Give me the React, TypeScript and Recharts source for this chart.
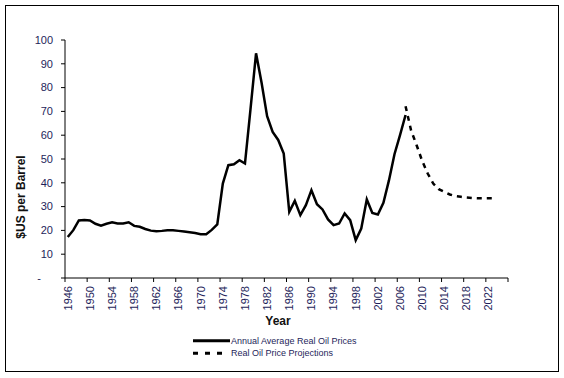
import React from "react";
import { LineChart, Line, XAxis, YAxis } from "recharts";

// years on the category axis (1946 - 2025)
const years: number[] = [];
for (let y = 1946; y <= 2025; y++) years.push(y);

// annual average real oil prices, 1946 - 2007
const actualYears = years.filter((y) => y <= 2007);
const actualPrices = [
  17.2, 20.1, 24.2, 24.4, 24.2, 22.8, 22.0, 22.8, 23.4, 22.9,
  22.9, 23.4, 21.9, 21.5, 20.6, 19.9, 19.6, 19.8, 20.1, 20.1,
  19.8, 19.5, 19.2, 18.9, 18.4, 18.4, 20.2, 22.5, 39.7, 47.4,
  47.8, 49.5, 48.1, 71.0, 94.4, 82.0, 68.0, 61.4, 58.0, 52.3,
  27.8, 32.4, 26.4, 30.6, 36.9, 31.0, 28.8, 24.6, 22.2, 22.9,
  27.1, 24.3, 15.9, 20.8, 33.0, 27.3, 26.7, 31.6, 41.0, 52.0,
  60.0, 68.5,
];

// real oil price projections, 2007 - 2023
const projectionYears = years.filter((y) => y >= 2007 && y <= 2023);
const projectionPrices = [
  72.2, 62.0, 55.8, 49.2, 43.9, 39.7, 37.3, 36.2, 35.1, 34.4,
  34.1, 33.8, 33.6, 33.5, 33.5, 33.5, 33.5,
];

const xTickLabels = [
  "1946", "1950", "1954", "1958", "1962", "1966", "1970", "1974", "1978",
  "1982", "1986", "1990", "1994", "1998", "2002", "2006", "2010", "2014",
  "2018", "2022",
];
const yTicks = [0, 10, 20, 30, 40, 50, 60, 70, 80, 90, 100];

const data = years.map((year) => {
  const ai = actualYears.indexOf(year);
  const pi = projectionYears.indexOf(year);
  return {
    year,
    actual: ai >= 0 ? actualPrices[ai] : null,
    projection: pi >= 0 ? projectionPrices[pi] : null,
  };
});

// tick marks sit on category boundaries, labels in the middle of the category
const xTicks = [...xTickLabels.map((l) => Number(l) - 0.5), 2025.5];
const BAND_HALF = 2.77;

const FONT = '"Liberation Sans", Arial, sans-serif';
const LABEL_COLOR = "#1e1e5a";

const XTick = (props: any) => {
  const { x, y, payload } = props;
  const label = payload.value + 0.5;
  if (!xTickLabels.includes(String(label))) return null;
  const lx = x + BAND_HALF;
  return (
    <text
      x={lx}
      y={y}
      transform={`rotate(-90 ${lx} ${y})`}
      textAnchor="end"
      dy="0.35em"
      fontSize={11}
      fontFamily={FONT}
      fill={LABEL_COLOR}
    >
      {label}
    </text>
  );
};

const YTick = (props: any) => {
  const { x, y, payload } = props;
  return (
    <text
      x={payload.value === 0 ? x - 12 : x}
      y={y}
      textAnchor="end"
      dy="0.35em"
      fontSize={11}
      fontFamily={FONT}
      fill={LABEL_COLOR}
    >
      {payload.value === 0 ? "-" : payload.value}
    </text>
  );
};

const App = () => {
  return (
    <div
      style={{
        position: "absolute",
        left: 0,
        top: 0,
        width: 564,
        height: 378,
        background: "#fff",
        fontFamily: FONT,
      }}
    >
      <LineChart
        width={564}
        height={378}
        data={data}
        margin={{ top: 40, right: 56, bottom: 60, left: 25 }}
      >
        <XAxis
          dataKey="year"
          type="number"
          domain={[1945.5, 2025.5]}
          ticks={xTicks}
          interval={0}
          height={40}
          tickSize={4}
          tickMargin={4}
          tick={<XTick />}
          stroke="#000"
          label={{
            content: () => (
              <text
                x={278}
                y={321}
                textAnchor="middle"
                dominantBaseline="central"
                fontSize={12}
                fontWeight="bold"
                fontFamily={FONT}
                fill="#111"
              >
                Year
              </text>
            ),
          }}
        />
        <YAxis
          domain={[0, 100]}
          ticks={yTicks}
          interval={0}
          width={40}
          tickSize={4}
          tickMargin={8}
          tick={<YTick />}
          stroke="#000"
          label={{
            content: () => (
              <text
                x={21}
                y={197}
                transform="rotate(-90 21 197)"
                textAnchor="middle"
                dominantBaseline="central"
                fontSize={12}
                fontWeight="bold"
                fontFamily={FONT}
                fill="#111"
              >
                $US per Barrel
              </text>
            ),
          }}
        />
        <Line
          type="linear"
          dataKey="actual"
          stroke="#000"
          strokeWidth={2.5}
          dot={false}
          isAnimationActive={false}
        />
        <Line
          type="linear"
          dataKey="projection"
          stroke="#000"
          strokeWidth={2.5}
          strokeDasharray="5 5"
          dot={false}
          isAnimationActive={false}
        />
      </LineChart>

      {/* outer frame */}
      <div
        style={{
          position: "absolute",
          left: 5,
          top: 5,
          width: 552,
          height: 365,
          border: "1px solid #000",
          pointerEvents: "none",
        }}
      />

      {/* legend */}
      <svg
        width={220}
        height={30}
        style={{ position: "absolute", left: 190, top: 333 }}
      >
        <line x1={3} x2={40} y1={7.7} y2={7.7} stroke="#000" strokeWidth={3} />
        <text x={41} y={7.7} dy="0.35em" fontSize={9} fontFamily={FONT} fill={LABEL_COLOR}>
          Annual Average Real Oil Prices
        </text>
        <line
          x1={3}
          x2={37}
          y1={20.3}
          y2={20.3}
          stroke="#000"
          strokeWidth={3}
          strokeDasharray="5 7"
        />
        <text x={41} y={20.3} dy="0.35em" fontSize={9} fontFamily={FONT} fill={LABEL_COLOR}>
          Real Oil Price Projections
        </text>
      </svg>
    </div>
  );
};

export default App;
